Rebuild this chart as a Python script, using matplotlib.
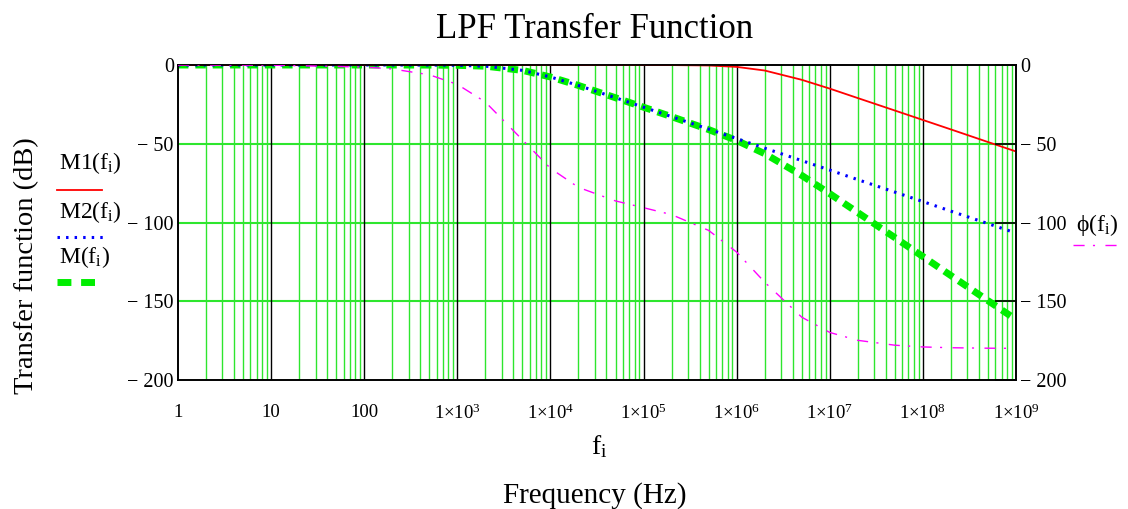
import matplotlib
matplotlib.use("Agg")
import matplotlib.pyplot as plt
from matplotlib.lines import Line2D
from matplotlib.ticker import FixedLocator, NullFormatter

plt.rcParams['font.family'] = ['Liberation Serif', 'DejaVu Serif']
plt.rcParams['mathtext.fontset'] = 'custom'
plt.rcParams['mathtext.rm'] = 'Liberation Serif'
plt.rcParams['mathtext.it'] = 'Liberation Serif:italic'

# frequency points (Hz) and values
freq = [1, 10, 100, 200, 500, 1e3, 2e3, 5e3, 1e4, 2e4, 5e4, 1e5, 2e5, 5e5,
        1e6, 2e6, 5e6, 1e7, 2e7, 5e7, 1e8, 2e8, 5e8, 1e9]
m1 = [0, 0, 0, 0, 0, 0, 0, 0, 0, 0, 0, 0, -0.05, -0.3,
      -1.2, -3.5, -9.4, -15.0, -21.0, -28.9, -34.9, -40.9, -48.9, -54.9]
m2 = [0, 0, 0, -0.01, -0.05, -0.2, -0.75, -3.4, -7.6, -13.0, -20.8, -26.8, -32.8, -40.7,
      -46.7, -52.8, -60.7, -66.7, -72.8, -80.7, -86.7, -92.8, -100.7, -106.7]
m = [0, 0, 0, -0.01, -0.05, -0.2, -0.75, -3.4, -7.6, -13.0, -20.8, -26.8, -32.8, -41.0,
     -47.9, -56.3, -70.1, -81.7, -93.7, -109.6, -121.6, -133.7, -149.6, -161.6]
phi = [0, -0.1, -1.3, -2.5, -6.2, -12.3, -23.5, -47.5, -65.6, -77.7, -86.3, -90.6, -95.0, -105.0,
       -118.8, -137.9, -160.1, -169.8, -174.8, -177.9, -179.0, -179.5, -179.8, -179.9]

xticks = [10.0 ** k for k in range(10)]
xlabels = ['1', '10', '100'] + [r'1$\times$10$^{%d}$' % k for k in range(3, 10)]
yticks = [0, -50, -100, -150, -200]
ylabels = ['0', '\u2212 50', '\u2212 100', '\u2212 150', '\u2212 200']

grid_green = '#2ee62e'
dot_ls = (0, (0.8, 2.0))
dash_ls = (0, (1.5, 1.0))
dashdot_ls = (0, (8, 6, 1.5, 7.5))

fig = plt.figure(figsize=(11.28, 5.09), dpi=100)
ax = fig.add_axes([0.1578, 0.2534, 0.7429, 0.6189])
ax.set_xscale('log')
ax.set_xlim(1, 1e9)
ax.set_ylim(-200, 0)

# grid: green minor verticals, black decade lines, green horizontals
minors = [d * 10.0 ** k for k in range(9) for d in range(2, 10)]
for x in minors:
    ax.axvline(x, color=grid_green, lw=1.0, zorder=1)
for x in xticks[1:-1]:
    ax.axvline(x, color='black', lw=1.0, zorder=1.5)
for y in yticks[1:-1]:
    ax.axhline(y, color=grid_green, lw=1.5, zorder=1)

ax.plot(freq, m1, color='red', lw=1.3, zorder=3)
ax.plot(freq, m2, color='blue', lw=2.2, ls=dot_ls, zorder=3)
ax.plot(freq, m, color='#00ee00', lw=5, ls=dash_ls, zorder=2.5)

ax.xaxis.set_major_locator(FixedLocator(xticks))
ax.set_xticklabels(xlabels)
ax.xaxis.set_minor_formatter(NullFormatter())
ax.tick_params(axis='x', which='both', length=0, pad=17, labelsize=13.5)
ax.set_yticks(yticks)
ax.set_yticklabels(ylabels)
ax.tick_params(axis='y', length=0, labelsize=14.5, pad=3)

ax2 = ax.twinx()
ax2.set_ylim(-200, 0)
ax2.plot(freq, phi, color='#ff00ff', lw=1.0, ls=dashdot_ls, zorder=3)
ax2.set_yticks(yticks)
ax2.set_yticklabels(ylabels)
ax2.tick_params(axis='y', direction='in', length=15, width=1.2, labelsize=14.5, pad=3)

for a in (ax, ax2):
    for s in a.spines.values():
        s.set_linewidth(1.2)

fig.text(0.5275, 0.943, 'LPF Transfer Function', ha='center', va='center', fontsize=25)
fig.text(0.024, 0.479, 'Transfer function (dB)', rotation=90, ha='center', va='center', fontsize=20.5)
fig.text(0.5275, 0.027, 'Frequency (Hz)', ha='center', va='center', fontsize=21)
fig.text(0.531, 0.122, r'f$_\mathrm{i}$', ha='center', va='center', fontsize=20)

# legend entries drawn as in the original
fig.text(0.052, 0.68, r'M1(f$_\mathrm{i}$)', fontsize=17, va='center')
fig.add_artist(Line2D([0.0505, 0.0905], [0.627, 0.627], color='red', lw=1.3))
fig.text(0.052, 0.584, r'M2(f$_\mathrm{i}$)', fontsize=17, va='center')
fig.add_artist(Line2D([0.0505, 0.0925], [0.534, 0.534], color='blue', lw=2.2, ls=dot_ls))
fig.text(0.052, 0.495, r'M(f$_\mathrm{i}$)', fontsize=17, va='center')
fig.add_artist(Line2D([0.0505, 0.0855], [0.446, 0.446], color='#00ee00', lw=5, ls=(0, (2.0, 1.4))))
fig.text(0.954, 0.558, r'$\mathrm{\phi}$(f$_\mathrm{i}$)', fontsize=17, va='center')
fig.add_artist(Line2D([0.951, 0.99], [0.519, 0.519], color='#ff00ff', lw=1.0, ls=dashdot_ls))

fig.savefig('out.png', dpi=100)
